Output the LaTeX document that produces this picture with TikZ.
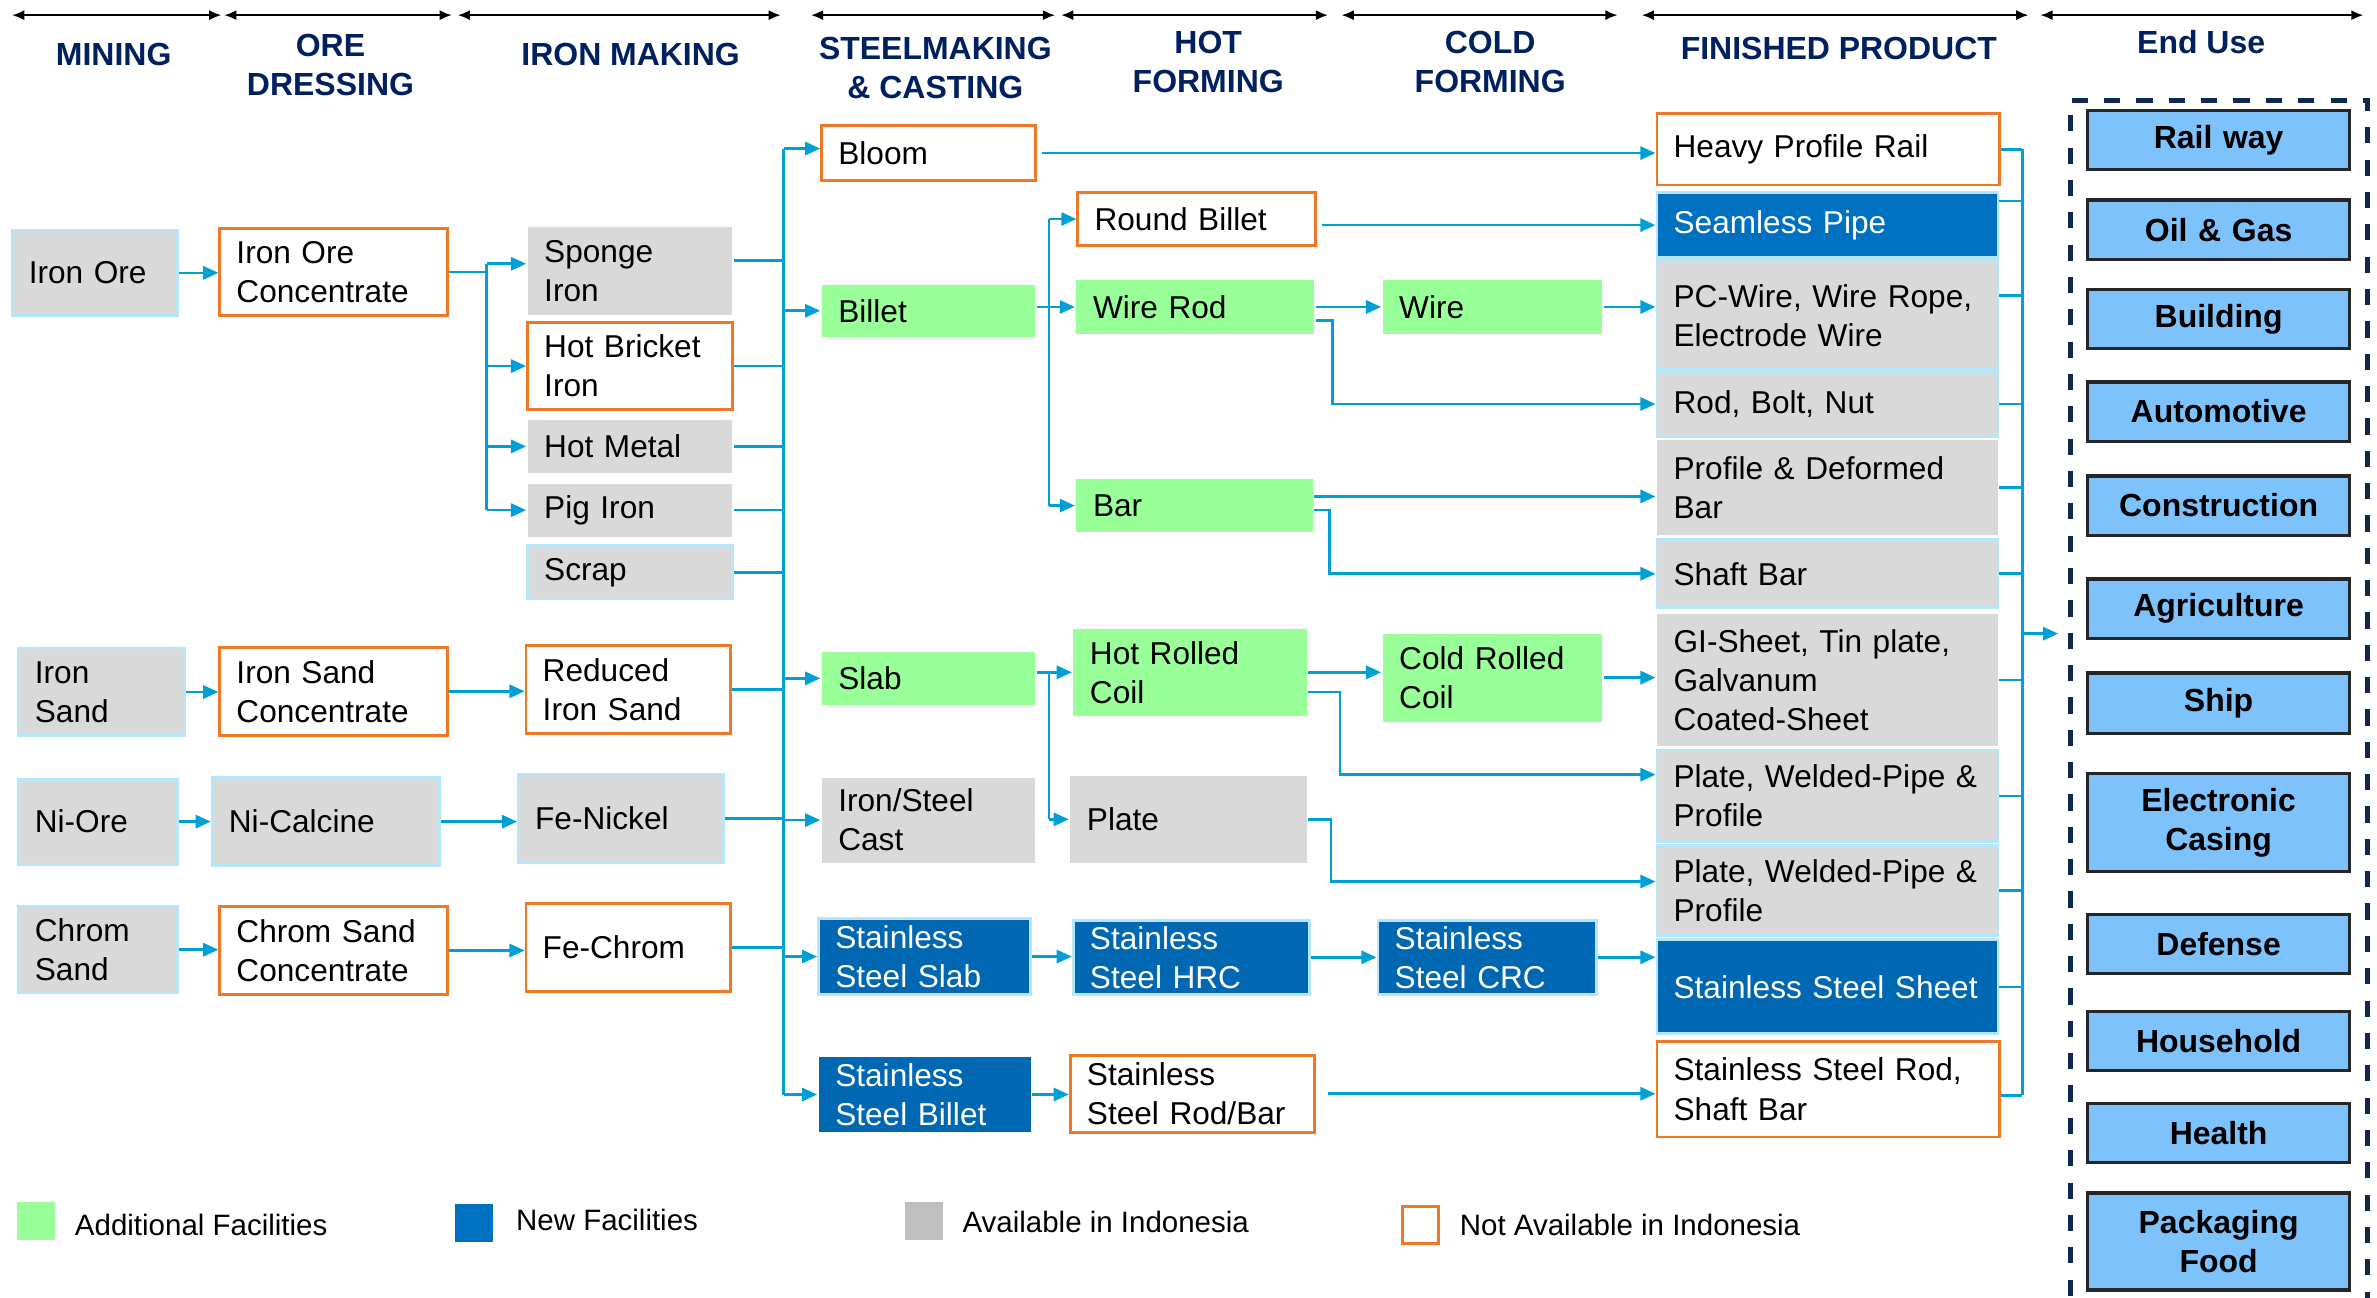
\documentclass[tikz,border=0pt]{standalone}
\usepackage{fontspec}
\setmainfont{Liberation Sans}
\usetikzlibrary{arrows.meta,calc}
\definecolor{conn}{HTML}{00A0D6}
\definecolor{lbord}{HTML}{B7E6F8}
\definecolor{gfill}{HTML}{D9D9D9}
\definecolor{grn}{HTML}{99FF99}
\definecolor{org}{HTML}{EE7828}
\definecolor{blu}{HTML}{0070C0}
\definecolor{sblu}{HTML}{0067B2}
\definecolor{eufill}{HTML}{7DC2FB}
\definecolor{navy}{HTML}{002060}
\definecolor{dframe}{HTML}{0E2850}
\definecolor{lgray}{HTML}{BFBFBF}
\exhyphenpenalty=10000 \hyphenpenalty=10000 \hbadness=10000 \hfuzz=20pt
\newcommand\mybox[7]{%
  \pgfmathsetmacro\myBW{(#5-#3)*0.015}%
  \pgfmathsetmacro\myBH{(#6-#4)*0.015}%
  \pgfmathsetmacro\myTW{(#5-#3)*0.015-0.33}%
  \node[#2, minimum width=\myBW cm, minimum height=\myBH cm, text width=\myTW cm] (#1) at ({(#3+#5)/2},{(#4+#6)/2}) {#7};%
}
\tikzset{
  bxbase/.style={rectangle, inner xsep=0pt, inner ysep=0pt, align=left, font=\fontsize{8.9}{11}\selectfont, line width=0.8pt},
  bxgb/.style={bxbase, fill=gfill, draw=lbord},
  bxg/.style={bxbase, fill=gfill},
  bxo/.style={bxbase, fill=white, draw=org},
  bxgr/.style={bxbase, fill=grn},
  bxbl/.style={bxbase, fill=blu, draw=lbord, text=white},
  bxsb/.style={bxbase, fill=sblu, draw=lbord, text=white},
  bxsbn/.style={bxbase, fill=sblu, text=white},
  bxeu/.style={bxbase, fill=eufill, draw=black!85, line width=0.9pt, align=center, font=\bfseries\fontsize{9}{11}\selectfont},
  hdr/.style={align=center, text=navy, font=\bfseries\fontsize{9}{11}\selectfont, inner sep=0pt},
  lgtxt/.style={anchor=west, inner sep=0pt, font=\fontsize{8.3}{10}\selectfont},
  lgsq/.style={minimum width=0.375cm, minimum height=0.375cm, inner sep=0pt},
  cline/.style={draw=conn, line width=0.75pt},
  arr/.style={cline, -{Triangle[length=0.15cm,width=0.13cm]}},
  toparr/.style={black, line width=0.55pt, {Latex[length=0.12cm,width=0.1cm]}-{Latex[length=0.12cm,width=0.1cm]}}
}
\begin{document}
\begin{tikzpicture}[x=0.015cm, y=-0.015cm]
\fill[white] (0,0) rectangle (1568,856);
\useasboundingbox (0,0) rectangle (1568,856);

% ---- top span arrows
\draw[toparr] (8,10) -- (146,10);
\draw[toparr] (148,10) -- (298,10);
\draw[toparr] (302,10) -- (515,10);
\draw[toparr] (535,10) -- (696,10);
\draw[toparr] (700,10) -- (876,10);
\draw[toparr] (885,10) -- (1067,10);
\draw[toparr] (1083,10) -- (1338,10);
\draw[toparr] (1346,10) -- (1559,10);

% ---- headers
\node[hdr] (h1) at (75,36) {MINING};
\node[hdr] (h2) at (218,43) {ORE\\DRESSING};
\node[hdr] (h3) at (416,36) {IRON MAKING};
\node[hdr] (h4) at (617,45) {STEELMAKING\\\& CASTING};
\node[hdr] (h5) at (797,41) {HOT\\FORMING};
\node[hdr] (h6) at (983,41) {COLD\\FORMING};
\node[hdr] (h7) at (1213,32) {FINISHED PRODUCT};
\node[hdr] (h8) at (1452,28) {End Use};

% ---- mining
\mybox{ironore}{bxgb}{8}{152}{117}{208}{Iron Ore}
\mybox{ironsand}{bxgb}{12}{428}{122}{485}{Iron\\Sand}
\mybox{niore}{bxgb}{12}{514}{117}{570}{Ni-Ore}
\mybox{chromsand}{bxgb}{12}{598}{117}{655}{Chrom\\Sand}

% ---- ore dressing
\mybox{ioc}{bxo}{145}{151}{295}{208}{Iron Ore\\Concentrate}
\mybox{isc}{bxo}{145}{427}{295}{485}{Iron Sand\\Concentrate}
\mybox{nical}{bxgb}{140}{513}{290}{571}{Ni-Calcine}
\mybox{csc}{bxo}{145}{598}{295}{656}{Chrom Sand\\Concentrate}

% ---- iron making
\mybox{sponge}{bxg}{348}{150}{483}{208}{Sponge\\Iron}
\mybox{hbi}{bxo}{348}{213}{483}{270}{Hot Bricket\\Iron}
\mybox{hotmetal}{bxg}{348}{277}{483}{312}{Hot Metal}
\mybox{pigiron}{bxg}{348}{319}{483}{354}{Pig Iron}
\mybox{scrap}{bxgb}{348}{360}{483}{395}{Scrap}
\mybox{ris}{bxo}{347}{426}{482}{484}{Reduced\\Iron Sand}
\mybox{fenickel}{bxgb}{342}{511}{477}{569}{Fe-Nickel}
\mybox{fechrom}{bxo}{347}{596}{482}{654}{Fe-Chrom}

% ---- steelmaking & casting
\mybox{bloom}{bxo}{542}{83}{683}{119}{Bloom}
\mybox{billet}{bxgr}{542}{188}{683}{222}{Billet}
\mybox{slab}{bxgr}{542}{430}{683}{465}{Slab}
\mybox{cast}{bxg}{542}{513}{683}{569}{Iron/Steel\\Cast}
\mybox{ssslab}{bxsb}{540}{606}{680}{656}{Stainless\\Steel Slab}
\mybox{ssbillet}{bxsbn}{540}{697}{680}{747}{Stainless\\Steel Billet}

% ---- hot forming
\mybox{roundbillet}{bxo}{711}{127}{868}{162}{Round Billet}
\mybox{wirerod}{bxgr}{710}{185}{867}{220}{Wire Rod}
\mybox{bar}{bxgr}{710}{316}{866}{351}{Bar}
\mybox{hrc}{bxgr}{708}{415}{862}{472}{Hot Rolled\\Coil}
\mybox{plate}{bxg}{706}{512}{862}{569}{Plate}
\mybox{sshrc}{bxsb}{708}{607}{864}{656}{Stainless\\Steel HRC}
\mybox{ssrodbar}{bxo}{706}{696}{867}{747}{Stainless\\Steel~Rod/Bar}

% ---- cold forming
\mybox{wire}{bxgr}{912}{185}{1057}{220}{Wire}
\mybox{crc}{bxgr}{912}{418}{1057}{476}{Cold Rolled\\Coil}
\mybox{sscrc}{bxsb}{909}{607}{1053}{656}{Stainless\\Steel CRC}

% ---- finished product
\mybox{hpr}{bxo}{1093}{75}{1319}{122}{Heavy~Profile~Rail}
\mybox{seamless}{bxbl}{1093}{127}{1318}{170}{Seamless Pipe}
\mybox{pcwire}{bxgb}{1093}{172}{1318}{244}{PC-Wire,~Wire~Rope,\\Electrode Wire}
\mybox{rodbolt}{bxgb}{1093}{245}{1318}{288}{Rod, Bolt, Nut}
\mybox{profile}{bxg}{1093}{290}{1318}{353}{Profile~\&~Deformed\\Bar}
\mybox{shaftbar}{bxgb}{1093}{356}{1318}{401}{Shaft Bar}
\mybox{gisheet}{bxg}{1093}{405}{1318}{492}{GI-Sheet,~Tin~plate,\\Galvanum\\Coated-Sheet}
\mybox{plate1}{bxgb}{1093}{495}{1318}{555}{Plate,~Welded-Pipe~\&\\Profile}
\mybox{plate2}{bxgb}{1093}{558}{1318}{617}{Plate,~Welded-Pipe~\&\\Profile}
\mybox{sssheet}{bxsb}{1093}{620}{1318}{682}{Stainless~Steel~Sheet}
\mybox{ssrod}{bxo}{1093}{687}{1319}{750}{Stainless~Steel~Rod,\\Shaft Bar}

% ---- end use
\node[draw=dframe, line width=1.4pt, dash pattern=on 0.16cm off 0.16cm, minimum width=2.94cm, minimum height=12.21cm, inner sep=0pt] (euframe) at (1464,473) {};
\mybox{railway}{bxeu}{1377}{73}{1550}{112}{Rail way}
\mybox{oilgas}{bxeu}{1377}{132}{1550}{171}{Oil \& Gas}
\mybox{building}{bxeu}{1377}{191}{1550}{230}{Building}
\mybox{automotive}{bxeu}{1377}{252}{1550}{291}{Automotive}
\mybox{construction}{bxeu}{1377}{314}{1550}{353}{Construction}
\mybox{agriculture}{bxeu}{1377}{382}{1550}{421}{Agriculture}
\mybox{ship}{bxeu}{1377}{444}{1550}{484}{Ship}
\mybox{electronic}{bxeu}{1377}{510}{1550}{575}{Electronic\\Casing}
\mybox{defense}{bxeu}{1377}{603}{1550}{642}{Defense}
\mybox{household}{bxeu}{1377}{667}{1550}{706}{Household}
\mybox{health}{bxeu}{1377}{728}{1550}{767}{Health}
\mybox{packaging}{bxeu}{1377}{787}{1550}{851}{Packaging\\Food}

% ---- legend
\node[lgsq, fill=grn] (lg1) at (23.5,805.5) {};
\node[lgtxt] (lt1) at (49,808) {Additional Facilities};
\node[lgsq, fill=blu] (lg2) at (312.5,806.5) {};
\node[lgtxt] (lt2) at (340,805) {New Facilities};
\node[lgsq, fill=lgray] (lg3) at (609.5,805.5) {};
\node[lgtxt] (lt3) at (634.5,806) {Available in Indonesia};
\node[lgsq, draw=org, line width=0.8pt, fill=white, minimum width=0.36cm, minimum height=0.36cm] (lg4) at (937,808) {};
\node[lgtxt] (lt4) at (962.5,808) {Not Available in Indonesia};

% ---- bus x positions
\coordinate (xA) at (321,0);
\coordinate (xB) at (517,0);
\coordinate (xC) at (692,0);
\coordinate (xD) at (879,0);
\coordinate (xE) at (877,0);
\coordinate (xF) at (884,0);
\coordinate (xG) at (878,0);
\coordinate (xH) at (1334,0);
\coordinate (yEU) at (0,418);

% ---- mining -> dressing -> iron making
\draw[arr] (ironore.east) -- (ironore.east -| ioc.west);
\draw[arr] (ironsand.east) -- (ironsand.east -| isc.west);
\draw[arr] (niore.east) -- (niore.east -| nical.west);
\draw[arr] (chromsand.east) -- (chromsand.east -| csc.west);
\draw[arr] (isc.east) -- (isc.east -| ris.west);
\draw[arr] (nical.east) -- (nical.east -| fenickel.west);
\draw[arr] (csc.east) -- (csc.east -| fechrom.west);

% iron ore concentrate bus
\coordinate (spin) at ($(sponge.west)+(0,-5)$);
\draw[cline] (ioc.east) -- (ioc.east -| xA);
\draw[cline] (spin -| xA) -- (pigiron.west -| xA);
\draw[arr] (spin -| xA) -- (spin);
\draw[arr] (hbi.west -| xA) -- (hbi.west);
\draw[arr] (hotmetal.west -| xA) -- (hotmetal.west);
\draw[arr] (pigiron.west -| xA) -- (pigiron.west);

% iron making -> steelmaking bus
\coordinate (spout) at ($(sponge.east)+(0,-7)$);
\draw[cline] (spout) -- (spout -| xB);
\foreach \n in {hbi,hotmetal,pigiron,scrap,ris,fenickel,fechrom}
  \draw[cline] (\n.east) -- (\n.east -| xB);
\coordinate (blin) at ($(bloom.west)+(0,-3)$);
\draw[cline] (blin -| xB) -- (ssbillet.west -| xB);
\draw[arr] (blin -| xB) -- (blin);
\foreach \n in {billet,slab,cast,ssslab,ssbillet}
  \draw[arr] (\n.west -| xB) -- (\n.west);

% billet branch
\draw[arr] (billet.east |- wirerod.west) -- (wirerod.west);
\draw[cline] (roundbillet.west -| xC) -- (bar.west -| xC);
\draw[arr] (roundbillet.west -| xC) -- (roundbillet.west);
\draw[arr] (bar.west -| xC) -- (bar.west);

% slab branch
\draw[arr] (slab.east |- hrc.west) -- (hrc.west);
\draw[cline] (hrc.west -| xC) -- (plate.west -| xC);
\draw[arr] (plate.west -| xC) -- (plate.west);

% stainless
\draw[arr] (ssslab.east) -- (ssslab.east -| sshrc.west);
\draw[arr] (sshrc.east) -- (sshrc.east -| sscrc.west);
\draw[arr] (sscrc.east) -- (sscrc.east -| sssheet.west);
\draw[arr] (ssbillet.east) -- (ssbillet.east -| ssrodbar.west);
\draw[arr, shorten <=0.12cm] (ssrodbar.east) -- (ssrodbar.east -| ssrod.west);

% hot / cold forming -> finished
\draw[arr, shorten <=0.05cm] (bloom.east) -- (bloom.east -| hpr.west);
\draw[arr, shorten <=0.05cm] (roundbillet.east |- seamless.west) -- (seamless.west);
\draw[arr] (wirerod.east) -- (wirerod.east -| wire.west);
\draw[arr] (wire.east) -- (wire.east -| pcwire.west);
\coordinate (wr2) at ($(wirerod.east)+(0,9)$);
\draw[arr] (wr2) -| (xD |- rodbolt.west) -- (rodbolt.west);
\coordinate (bar1) at ($(bar.east)+(0,-6)$);
\draw[arr] (bar1) -- (bar1 -| profile.west);
\coordinate (bar2) at ($(bar.east)+(0,3)$);
\draw[arr] (bar2) -| (xE |- shaftbar.west) -- (shaftbar.west);
\draw[arr] (hrc.east) -- (hrc.east -| crc.west);
\coordinate (hrc2) at ($(hrc.east)+(0,13)$);
\coordinate (p1in) at ($(plate1.west)+(0,-14)$);
\draw[arr] (hrc2) -| (xF |- p1in) -- (p1in);
\draw[arr] (crc.east) -- (crc.east -| gisheet.west);
\coordinate (p2in) at ($(plate2.west)+(0,-6)$);
\draw[arr] (plate.east) -| (xG |- p2in) -- (p2in);

% finished -> end use bus
\coordinate (seo) at ($(seamless.east)+(0,-16)$);
\coordinate (pco) at ($(pcwire.east)+(0,-13)$);
\coordinate (sro) at ($(ssrod.east)+(0,4)$);
\draw[cline] (hpr.east -| xH) -- (sro -| xH);
\foreach \n in {hpr,rodbolt,profile,shaftbar,gisheet,plate1,plate2,sssheet}
  \draw[cline] (\n.east) -- (\n.east -| xH);
\draw[cline] (seo) -- (seo -| xH);
\draw[cline] (pco) -- (pco -| xH);
\draw[cline] (sro) -- (sro -| xH);
\draw[arr, shorten >=0.1cm] (xH |- yEU) -- (euframe.west |- yEU);
\end{tikzpicture}
\end{document}
